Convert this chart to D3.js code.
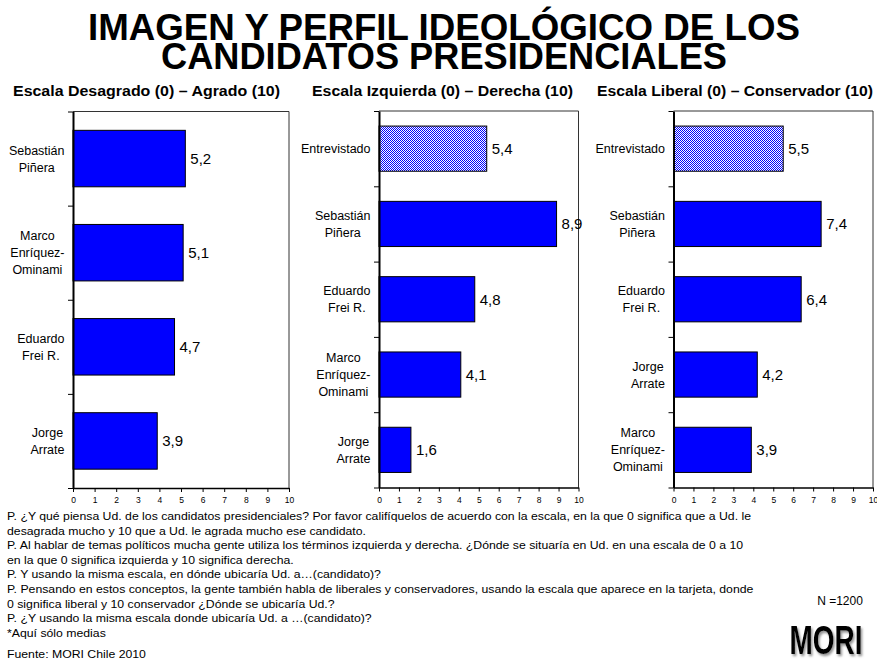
<!DOCTYPE html>
<html><head><meta charset="utf-8">
<script src="https://cdn.jsdelivr.net/npm/d3@7"></script>
<style>
html,body{margin:0;padding:0;background:#fff;}
svg{display:block;font-family:"Liberation Sans",Arial,Helvetica,sans-serif;}
</style></head>
<body>
<svg id="c" width="877" height="661"></svg>
<script>
// ---- data ----
const titleLines = ["IMAGEN Y PERFIL IDEOLÓGICO DE LOS", "CANDIDATOS PRESIDENCIALES"];
const panelTitles = ["Escala Desagrado (0) – Agrado (10)", "Escala Izquierda (0) – Derecha (10)", "Escala Liberal (0) – Conservador (10)"];

const agradoCategories = ["Sebastián\nPiñera", "Marco\nEnríquez-\nOminami", "Eduardo\nFrei R.", "Jorge\nArrate"];
const agradoValues = [5.2, 5.1, 4.7, 3.9];

const izqDerCategories = ["Entrevistado", "Sebastián\nPiñera", "Eduardo\nFrei R.", "Marco\nEnríquez-\nOminami", "Jorge\nArrate"];
const izqDerValues = [5.4, 8.9, 4.8, 4.1, 1.6];

const libConCategories = ["Entrevistado", "Sebastián\nPiñera", "Eduardo\nFrei R.", "Jorge\nArrate", "Marco\nEnríquez-\nOminami"];
const libConValues = [5.5, 7.4, 6.4, 4.2, 3.9];

const tickValues = [0, 1, 2, 3, 4, 5, 6, 7, 8, 9, 10];
const selfCategory = "Entrevistado";

const footnotes = [
  "P. ¿Y qué piensa Ud. de los candidatos presidenciales? Por favor califíquelos de acuerdo con la escala, en la que 0 significa que a Ud. le",
  "desagrada mucho y 10 que a Ud. le agrada mucho ese candidato.",
  "P. Al hablar de temas políticos mucha gente utiliza los términos izquierda y derecha. ¿Dónde se situaría en Ud. en una escala de 0 a 10",
  "en la que 0 significa izquierda y 10 significa derecha.",
  "P. Y usando la misma escala, en dónde ubicaría Ud. a…(candidato)?",
  "P. Pensando en estos conceptos, la gente también habla de liberales y conservadores, usando la escala que aparece en la tarjeta, donde",
  "0 significa liberal y 10 conservador ¿Dónde se ubicaría Ud.?",
  "P. ¿Y usando la misma escala donde ubicaría Ud. a …(candidato)?",
  "*Aquí sólo medias"
];
const sourceText = "Fuente: MORI Chile 2010";
const sampleText = "N =1200";
const logoText = "MORI";

// ---- drawing ----
const svg = d3.select("#c");
const defs = svg.append("defs");
const pat = defs.append("pattern").attr("id","checker").attr("width",2).attr("height",2).attr("patternUnits","userSpaceOnUse");
pat.append("rect").attr("width",2).attr("height",2).attr("fill","#ffffff");
pat.append("rect").attr("width",1).attr("height",1).attr("fill","#0000ff");
pat.append("rect").attr("x",1).attr("y",1).attr("width",1).attr("height",1).attr("fill","#0000ff");
const filt = defs.append("filter").attr("id","shadow").attr("x","-20%").attr("y","-20%").attr("width","150%").attr("height","150%");
filt.append("feDropShadow").attr("dx",1.5).attr("dy",1.5).attr("stdDeviation",0.8).attr("flood-color","#777").attr("flood-opacity",0.8);

// title (one text element, two lines)
const titleSpecs = [{y:40, len:712},{y:69, len:566}];
const tt = svg.append("text").attr("text-anchor","middle").attr("font-size",36).attr("font-weight","bold");
titleLines.forEach((t,i)=>{
  tt.append("tspan").attr("x",444).attr("y",titleSpecs[i].y)
    .attr("textLength",titleSpecs[i].len).attr("lengthAdjust","spacingAndGlyphs")
    .text(t);
});

const panels = [
  {cats:agradoCategories, vals:agradoValues, x0:73, x1:289, top:111.5, bottom:488, tx:146.5, tlen:267},
  {cats:izqDerCategories, vals:izqDerValues, x0:379, x1:578.5, top:111, bottom:487.5, tx:442.5, tlen:261},
  {cats:libConCategories, vals:libConValues, x0:673.5, x1:873, top:111, bottom:487.5, tx:735, tlen:276}
];

panels.forEach((p,pi)=>{
  const g = svg.append("g");
  g.append("text").attr("x",p.tx).attr("y",95.5).attr("text-anchor","middle")
    .attr("font-size",14.5).attr("font-weight","bold")
    .attr("textLength",p.tlen).attr("lengthAdjust","spacingAndGlyphs")
    .text(panelTitles[pi]);

  const x = d3.scaleLinear().domain([0,10]).range([p.x0,p.x1]);
  const y = d3.scaleBand().domain(p.cats).range([p.top,p.bottom]).paddingInner(0.4).paddingOuter(0.2);
  const yb = d3.scaleLinear().domain([0,p.cats.length]).range([p.top,p.bottom]);

  g.append("line").attr("x1",x(0)).attr("x2",x(10)).attr("y1",p.top).attr("y2",p.top).attr("stroke","#333").attr("stroke-width",1);
  g.append("line").attr("x1",x(10)).attr("x2",x(10)).attr("y1",p.top).attr("y2",p.bottom).attr("stroke","#333").attr("stroke-width",1);

  g.selectAll("rect.bar").data(p.cats.map((c,i)=>({c, v:p.vals[i]}))).join("rect")
    .attr("class","bar")
    .attr("x",x(0)).attr("y",d=>y(d.c))
    .attr("width",d=>x(d.v)-x(0)).attr("height",y.bandwidth())
    .attr("fill",d=>d.c===selfCategory?"url(#checker)":"#0000ff")
    .attr("stroke","#000").attr("stroke-width",1);

  g.selectAll("text.val").data(p.cats.map((c,i)=>({c, v:p.vals[i]}))).join("text")
    .attr("class","val")
    .attr("x",d=>x(d.v)+5).attr("y",d=>y(d.c)+y.bandwidth()/2).attr("dy","0.36em")
    .attr("font-size",15).attr("fill","#000")
    .text(d=>d3.format(".1f")(d.v).replace(".",","));

  const xa = g.append("g").attr("transform",`translate(0,${p.bottom})`)
    .call(d3.axisBottom(x).tickValues(tickValues).tickSize(4).tickSizeOuter(0).tickPadding(5).tickFormat(d3.format("d")));
  xa.select(".domain").attr("stroke","#000").attr("stroke-width",1.5);
  xa.selectAll(".tick line").attr("stroke","#000");
  xa.selectAll(".tick text").attr("font-size",8.5).attr("font-family","Liberation Sans, Arial, sans-serif").attr("fill","#000");

  const ya = g.append("g").attr("transform",`translate(${x(0)},0)`)
    .call(d3.axisLeft(yb).ticks(p.cats.length).tickSize(5).tickSizeOuter(0).tickFormat(""));
  ya.select(".domain").attr("stroke","#000").attr("stroke-width",2);
  ya.selectAll(".tick line").attr("stroke","#000");

  const rightEdge = x(0) - 8.5;
  const lh = 17;
  p.cats.forEach(c=>{
    const lines = c.split("\n");
    const tg = g.append("g");
    const texts = lines.map((ln,li)=> tg.append("text")
      .attr("y", y(c)+y.bandwidth()/2 + (li-(lines.length-1)/2)*lh)
      .attr("dy","0.36em").attr("font-size",12.5).attr("text-anchor","middle").attr("fill","#000").text(ln));
    const maxW = d3.max(texts, t=>t.node().getComputedTextLength());
    texts.forEach(t=>t.attr("x", rightEdge - maxW/2));
  });
});

// footnotes
const fg = svg.append("g");
const fTexts = footnotes.map((t,i)=> fg.append("text").attr("x",0).attr("y",520 + i*14.6).attr("font-size",11.5).attr("fill","#000").text(t));
fg.append("text").attr("x",0).attr("y",658).attr("font-size",11.5).attr("fill","#000").text(sourceText);
const natural = fTexts[0].node().getComputedTextLength();
const sx = 745/natural;
fg.attr("transform",`translate(7,0) scale(${sx},1)`);

// N and logo
svg.append("text").attr("x",840).attr("y",604.5).attr("text-anchor","middle").attr("font-size",12).attr("fill","#000").text(sampleText);
svg.append("g").attr("transform","translate(826,654) scale(1,1.45)")
  .append("text").attr("x",0).attr("y",0).attr("text-anchor","middle").attr("font-size",28).attr("font-weight","bold")
  .attr("fill","#000").attr("filter","url(#shadow)").text(logoText);
</script>
</body></html>
